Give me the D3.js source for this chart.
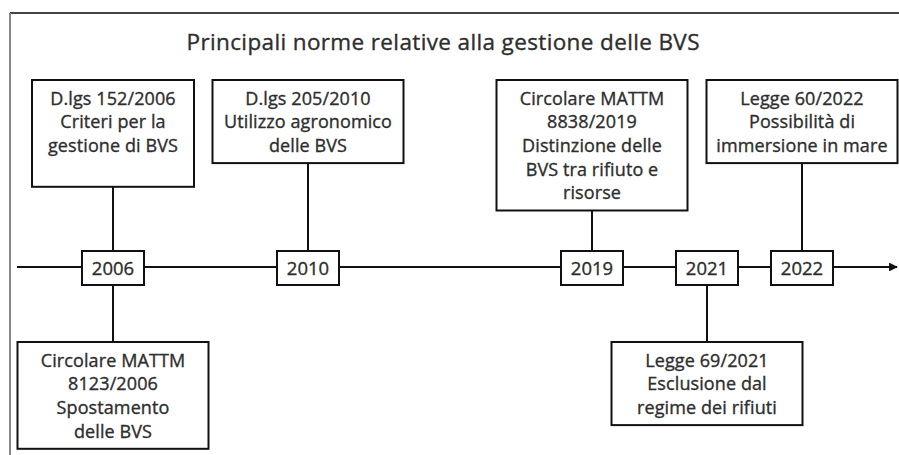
<!DOCTYPE html>
<html>
<head>
<meta charset="utf-8">
<script src="https://cdn.jsdelivr.net/npm/d3@7"></script>
<style>
  body { margin: 0; background: #fff; }
  text { font-family: "Open Sans", sans-serif; fill: #2e2e2e; stroke: #2e2e2e; stroke-width: 0.35px; }
</style>
</head>
<body>
<div id="chart"></div>
<script>
// years on the timeline
const years = ["2006", "2010", "2019", "2021", "2022"]

// norms: year, side of the axis, text lines
const normYears = ["2006", "2010", "2019", "2022", "2006", "2021"]
const normSides = ["above", "above", "above", "above", "below", "below"]
const normLines = [
  ["D.lgs 152/2006", "Criteri per la", "gestione di BVS", ""],
  ["D.lgs 205/2010", "Utilizzo agronomico", "delle BVS"],
  ["Circolare MATTM", "8838/2019", "Distinzione delle", "BVS tra rifiuto e", "risorse"],
  ["Legge 60/2022", "Possibilità di", "immersione in mare"],
  ["Circolare MATTM", "8123/2006", "Spostamento", "delle BVS"],
  ["Legge 69/2021", "Esclusione dal", "regime dei rifiuti"]
]
const titleText = "Principali norme relative alla gestione delle BVS"

;(function () {
    const width = 899, height = 455
    const axisY = 267
    const lineH = 23.7

    const svg = d3.select("#chart")
        .append("svg")
        .attr("width", width)
        .attr("height", height)

    // the timeline is not proportional to time in the original, so map by ordinal
    const x = d3.scaleOrdinal().domain(years).range([113, 308, 592, 707, 802])

    // frame (top and left edges only)
    svg.append("line")
        .attr("x1", 10).attr("x2", width).attr("y1", 13).attr("y2", 13)
        .attr("stroke", "#444").attr("stroke-width", 2)
    svg.append("line")
        .attr("x1", 10).attr("x2", 10).attr("y1", 13).attr("y2", height)
        .attr("stroke", "#888").attr("stroke-width", 2)

    svg.append("text")
        .attr("x", 443)
        .attr("y", 50)
        .attr("text-anchor", "middle")
        .attr("font-size", "22.5px")
        .attr("textLength", 513)
        .attr("lengthAdjust", "spacing")
        .text(titleText)

    svg.append("defs").append("marker")
        .attr("id", "arrow")
        .attr("viewBox", "0 0 10 10")
        .attr("refX", 9).attr("refY", 5)
        .attr("markerWidth", 4).attr("markerHeight", 4)
        .attr("orient", "auto")
        .append("path")
        .attr("d", "M0,0 L10,5 L0,10 z")
        .attr("fill", "#111")

    svg.append("line")
        .attr("x1", 17).attr("x2", 897)
        .attr("y1", axisY).attr("y2", axisY)
        .attr("stroke", "#111").attr("stroke-width", 2.2)
        .attr("marker-end", "url(#arrow)")

    const norms = normYears.map(function (y, i) {
        return { year: y, side: normSides[i], lines: normLines[i] }
    })

    const boxW = 191, aboveTop = 80, belowTop = 342

    norms.forEach(function (d) {
        d.w = d.lines.length === 4 && d.side === "above" ? 162 : boxW
        d.h = d.lines.length * lineH + 12
        d.cx = x(d.year)
        d.top = d.side === "above" ? aboveTop : belowTop
    })

    // connectors
    svg.selectAll(".conn")
        .data(norms)
        .enter().append("line")
        .attr("class", "conn")
        .attr("x1", function (d) { return d.cx })
        .attr("x2", function (d) { return d.cx })
        .attr("y1", function (d) { return d.side === "above" ? d.top + d.h : axisY })
        .attr("y2", function (d) { return d.side === "above" ? axisY : d.top })
        .attr("stroke", "#111").attr("stroke-width", 2)

    // norm boxes
    const g = svg.selectAll(".norm")
        .data(norms)
        .enter().append("g")
        .attr("class", "norm")

    g.append("rect")
        .attr("x", function (d) { return d.cx - d.w / 2 })
        .attr("y", function (d) { return d.top })
        .attr("width", function (d) { return d.w })
        .attr("height", function (d) { return d.h })
        .attr("fill", "#fff")
        .attr("stroke", "#111").attr("stroke-width", 2)

    g.each(function (d) {
        const t = d3.select(this).append("text")
            .attr("text-anchor", "middle")
            .attr("font-size", "18px")
            .attr("letter-spacing", "0.1px")
        d.lines.forEach(function (l, i) {
            t.append("tspan")
                .attr("x", d.cx)
                .attr("y", d.top + 24.5 + i * lineH)
                .text(l)
        })
    })

    // year boxes
    const yb = svg.selectAll(".year")
        .data(years)
        .enter().append("g")
        .attr("class", "year")

    yb.append("rect")
        .attr("x", function (d) { return x(d) - 31 })
        .attr("y", axisY - 16)
        .attr("width", 62)
        .attr("height", 34)
        .attr("fill", "#fff")
        .attr("stroke", "#111").attr("stroke-width", 2)

    yb.append("text")
        .attr("x", function (d) { return x(d) })
        .attr("y", axisY + 7.5)
        .attr("text-anchor", "middle")
        .attr("font-size", "18.5px")
        .text(function (d) { return d })
})()
</script>
</body>
</html>
